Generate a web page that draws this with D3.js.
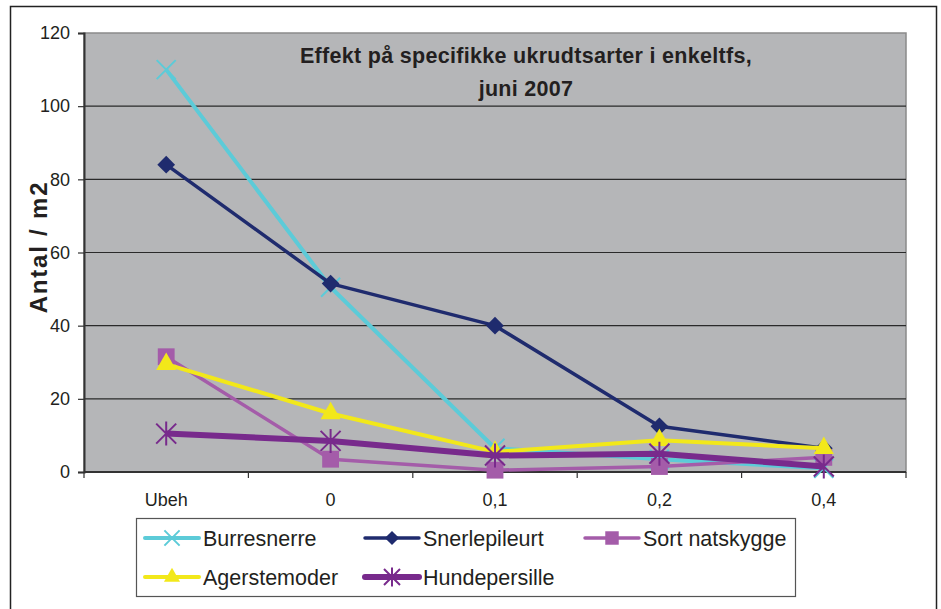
<!DOCTYPE html>
<html>
<head>
<meta charset="utf-8">
<script src="https://cdn.jsdelivr.net/npm/d3@7"></script>
<style>
body { margin: 0; background: #fff; }
svg { display: block; font-family: Arial, "Liberation Sans", sans-serif; }
</style>
</head>
<body>
<div id="chart"></div>
<script>
var categories = ['Ubeh', '0', '0,1', '0,2', '0,4'];
var seriesNames = ['Burresnerre', 'Snerlepileurt', 'Sort natskygge', 'Agerstemoder', 'Hundepersille'];
var burresnerre = [110, 50.5, 6.5, 3.5, 1];
var snerlepileurt = [84, 51.5, 40, 12.5, 6.5];
var sortNatskygge = [31.5, 3.5, 0.5, 1.5, 4];
var agerstemoder = [29.5, 16, 5.5, 8.7, 6.5];
var hundepersille = [10.5, 8.5, 4.5, 5, 1.5];
var yTicks = [0, 20, 40, 60, 80, 100, 120];

var width = 941, height = 609;
var margin = {left: 84, top: 33, right: 906, bottom: 472};

var styles = [
	{color: '#5ccbd8', w: 4, marker: 'x'},
	{color: '#1f2b6e', w: 3.5, marker: 'diamond'},
	{color: '#a45ca9', w: 3.5, marker: 'square'},
	{color: '#f2e81a', w: 4, marker: 'triangle'},
	{color: '#782a8c', w: 6, marker: 'star'}
];
var allSeries = [burresnerre, snerlepileurt, sortNatskygge, agerstemoder, hundepersille];

var svg = d3.select('#chart')
	.append('svg')
	.attr('width', width)
	.attr('height', height);

// outer frame
svg.append('rect')
	.attr('x', 10.5).attr('y', 6.5)
	.attr('width', 926).attr('height', 620)
	.attr('fill', '#fff')
	.attr('stroke', '#222')
	.attr('stroke-width', 1.5);

var x = d3.scaleBand()
	.domain(categories)
	.range([margin.left, margin.right]);

var y = d3.scaleLinear()
	.domain([0, 120])
	.range([margin.bottom, margin.top]);

// plot area
svg.append('rect')
	.attr('x', margin.left).attr('y', margin.top)
	.attr('width', margin.right - margin.left)
	.attr('height', margin.bottom - margin.top)
	.attr('fill', '#b5b6b8')
	.attr('stroke', '#8a8a8a')
	.attr('stroke-width', 1.5);

// gridlines
svg.append('g')
	.selectAll('line')
	.data(yTicks.filter(function(d){ return d > 0 && d < 120; }))
	.enter()
	.append('line')
	.attr('x1', margin.left).attr('x2', margin.right)
	.attr('y1', function(d){ return y(d); })
	.attr('y2', function(d){ return y(d); })
	.attr('stroke', '#2a2a2a')
	.attr('stroke-width', 1.2);

// y axis
var yAxis = svg.append('g')
	.attr('transform', 'translate(' + margin.left + ',0)')
	.call(d3.axisLeft(y).tickValues(yTicks).tickSize(6).tickPadding(8));
yAxis.select('.domain').attr('stroke', '#333').attr('stroke-width', 2);
yAxis.selectAll('.tick line').attr('stroke', '#333').attr('stroke-width', 1.2);
yAxis.selectAll('text').attr('font-size', 18).attr('fill', '#231f20').attr('font-family', 'Arial, "Liberation Sans", sans-serif');

// x axis, ticks between categories
var xAxis = svg.append('g')
	.attr('transform', 'translate(0,' + margin.bottom + ')');
xAxis.append('line')
	.attr('x1', margin.left).attr('x2', margin.right)
	.attr('stroke', '#333').attr('stroke-width', 2);
xAxis.selectAll('.xt')
	.data(d3.range(categories.length + 1))
	.enter()
	.append('line')
	.attr('class', 'xt')
	.attr('x1', function(i){ return margin.left + i * x.step(); })
	.attr('x2', function(i){ return margin.left + i * x.step(); })
	.attr('y1', 0).attr('y2', 6)
	.attr('stroke', '#333').attr('stroke-width', 1.2);
xAxis.selectAll('text')
	.data(categories)
	.enter()
	.append('text')
	.attr('x', function(d){ return x(d) + x.bandwidth() / 2; })
	.attr('y', 34)
	.attr('text-anchor', 'middle')
	.attr('font-size', 18)
	.attr('fill', '#231f20')
	.text(function(d){ return d; });

// y title
svg.append('text')
	.attr('transform', 'translate(47,247) rotate(-90)')
	.attr('text-anchor', 'middle')
	.attr('font-size', 24)
	.attr('letter-spacing', 1.8)
	.attr('font-weight', 'bold')
	.attr('fill', '#231f20')
	.text('Antal / m2');

// chart title
var title = svg.append('text')
	.attr('text-anchor', 'middle')
	.attr('font-size', 21.5)
	.attr('letter-spacing', 0.3)
	.attr('font-weight', 'bold')
	.attr('fill', '#231f20');
title.append('tspan').attr('x', 526).attr('y', 63).text('Effekt på specifikke ukrudtsarter i enkeltfs,');
title.append('tspan').attr('x', 526).attr('y', 96).text('juni 2007');

function drawMarker(g, type, color, size) {
	if (type == 'x') {
		g.append('path')
			.attr('d', 'M' + (-size) + ',' + (-size) + 'L' + size + ',' + size + 'M' + (-size) + ',' + size + 'L' + size + ',' + (-size))
			.attr('stroke', color).attr('stroke-width', 2).attr('fill', 'none');
	} else if (type == 'star') {
		g.append('path')
			.attr('d', 'M' + (-size) + ',' + (-size) + 'L' + size + ',' + size + 'M' + (-size) + ',' + size + 'L' + size + ',' + (-size) + 'M0,' + (-size * 1.2) + 'L0,' + (size * 1.2))
			.attr('stroke', color).attr('stroke-width', 2).attr('fill', 'none');
	} else {
		var sym = {diamond: d3.symbolDiamond2, square: d3.symbolSquare2, triangle: d3.symbolTriangle2}[type];
		var area = {diamond: 2 * size * size, square: 4 * size * size, triangle: 3.2 * size * size}[type];
		g.append('path')
			.attr('d', d3.symbol().type(sym).size(area)())
			.attr('fill', color);
	}
}

var markerSize = {x: 9.5, diamond: 10, square: 9.5, triangle: 9.5, star: 10};

var line = d3.line()
	.x(function(d, i){ return x(categories[i]) + x.bandwidth() / 2; })
	.y(function(d){ return y(d); });

allSeries.forEach(function(vals, s){
	var st = styles[s];
	var g = svg.append('g');
	g.append('path')
		.datum(vals)
		.attr('d', line)
		.attr('fill', 'none')
		.attr('stroke', st.color)
		.attr('stroke-width', st.w)
		.attr('stroke-linejoin', 'round');
	vals.forEach(function(v, i){
		var m = g.append('g')
			.attr('transform', 'translate(' + (x(categories[i]) + x.bandwidth() / 2) + ',' + y(v) + ')');
		drawMarker(m, st.marker, st.color, markerSize[st.marker]);
	});
});

// legend
var legend = svg.append('g');
legend.append('rect')
	.attr('x', 136.5).attr('y', 518.5)
	.attr('width', 659).attr('height', 78)
	.attr('fill', '#fff')
	.attr('stroke', '#555')
	.attr('stroke-width', 1.2);

var legendPos = [[145, 538], [365, 538], [585, 538], [145, 577], [365, 577]];
seriesNames.forEach(function(name, s){
	var st = styles[s];
	var p = legendPos[s];
	var item = legend.append('g').attr('transform', 'translate(' + p[0] + ',' + p[1] + ')');
	item.append('line')
		.attr('x1', 0).attr('x2', 54)
		.attr('stroke', st.color)
		.attr('stroke-width', st.w)
		.attr('stroke-linecap', 'round');
	drawMarker(item.append('g').attr('transform', 'translate(27,0)'), st.marker, st.color, markerSize[st.marker] * 0.8);
	item.append('text')
		.attr('x', 58)
		.attr('y', 7.5)
		.attr('font-size', 21.5)
		.attr('fill', '#231f20')
		.text(name);
});
</script>
</body>
</html>
